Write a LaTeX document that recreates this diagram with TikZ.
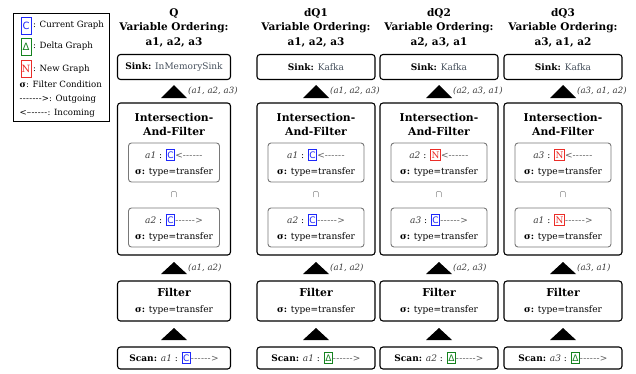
\documentclass[tikz,border=0pt]{standalone}
\usepackage{fontspec}
\setmainfont{DejaVu Serif}
\newfontfamily\sansf{DejaVu Sans}
\definecolor{cblue}{RGB}{30,40,250}
\definecolor{dgreen}{RGB}{20,130,30}
\definecolor{nred}{RGB}{235,45,40}
\definecolor{valc}{RGB}{70,80,92}
\definecolor{labc}{RGB}{60,60,60}
\definecolor{ibord}{RGB}{120,120,120}
\definecolor{dashc}{RGB}{90,90,90}
\newcommand\dsh{-\kern0.3pt-\kern0.3pt-\kern0.3pt-\kern0.3pt-\kern0.3pt-\kern0.3pt}
\newcommand\gbox[2]{{\setlength\fboxsep{0.6pt}\setlength\fboxrule{0.9pt}\fcolorbox{#1}{white}{\rule[-1.5pt]{0pt}{9.5pt}\textcolor{#1}{#2}}}}
\newcommand\Cb{\gbox{cblue}{\sansf C}}
\newcommand\Db{\gbox{dgreen}{\sansf Δ}}
\newcommand\Nb{\gbox{nred}{N}}
\newcommand\vv[1]{\textcolor{labc}{\textit{#1}}}
\newcommand\outg{\textcolor{dashc}{\dsh>}}
\newcommand\inc{\textcolor{dashc}{<\dsh}}
\newcommand\bodyfont{\fontsize{9}{16}\selectfont}
\tikzset{
  obox/.style={draw, line width=1.1pt, rounded corners=3pt, inner sep=0pt},
  ibox/.style={draw=ibord, line width=0.9pt, rounded corners=3pt, inner sep=0pt, align=center, font=\bodyfont},
  ttl/.style={align=center, inner sep=0pt, font=\bfseries\fontsize{10.5}{14.5}\selectfont},
  hd/.style={align=center, inner sep=0pt, font=\bfseries\fontsize{10.8}{14}\selectfont},
  lab/.style={anchor=west, inner sep=1pt, font=\itshape\fontsize{8.6}{9}\selectfont, text=labc},
  lt/.style={anchor=west, inner sep=1.5pt, font=\fontsize{8.6}{9}\selectfont},
  lgbox/.style={line width=0.9pt, minimum width=10, minimum height=17, inner sep=0pt, font=\fontsize{10}{10}\selectfont}
}
\newcommand\qcol[9]{%
\node[ttl] (t#1) at (#2,27.5) {#4\\Variable Ordering:\\#5};
\node[obox, minimum width=#3, minimum height=25, font=\bodyfont] (s#1) at (#2,67) {\textbf{Sink:} \textcolor{valc}{#6}};
\fill (#2-13,98) -- (#2,85) -- (#2+13,98) -- cycle;
\node[lab] (l#1) at (#2+13,91) {#7};
\node[obox, minimum width=#3, minimum height=152] (i#1) at (#2,179) {};
\node[hd] (h#1) at (#2,124) {Intersection-\\And-Filter};
\node[ibox, minimum width=#3-22, minimum height=39] (ia#1) at (#2,162.5) {#8\\\textbf{σ:} type=transfer};
\node[inner sep=0pt, font=\normalsize, text=labc] (cap#1) at (#2,195) {$\cap$};
\node[ibox, minimum width=#3-22, minimum height=39] (ib#1) at (#2,227.5) {#9\\\textbf{σ:} type=transfer};
\fill (#2-13,274) -- (#2,262) -- (#2+13,274) -- cycle;
\node[lab] (m#1) at (#2+13,268) {\midlab};
\node[obox, minimum width=#3, minimum height=40, align=center, font=\bodyfont] (f#1) at (#2,301) {{\bfseries\fontsize{10.8}{10}\selectfont Filter}\\\textbf{σ:} type=transfer};
\fill (#2-13,340) -- (#2,328) -- (#2+13,340) -- cycle;
\node[obox, minimum width=#3, minimum height=22, font=\bodyfont] (sc#1) at (#2,358) {\textbf{Scan:} \scanc};
}
\begin{document}
\begin{tikzpicture}[x=1pt, y=-1pt]
\useasboundingbox (0,0) rectangle (636,373);
% legend
\node[draw, line width=0.8pt, minimum width=96, minimum height=108, inner sep=0pt] (leg) at (61,67) {};
\node[lgbox, draw=cblue, text=cblue, font=\sansf\fontsize{10}{10}\selectfont] (lc) at (26,25.5) {C};
\node[lt] (lct) at (lc.east) {: Current Graph};
\node[lgbox, draw=dgreen, text=dgreen, font=\sansf\fontsize{10}{10}\selectfont] (ld) at (26,46.5) {Δ};
\node[lt] (ldt) at (ld.east) {: Delta Graph};
\node[lgbox, draw=nred, text=nred] (ln) at (26,69) {N};
\node[lt] (lnt) at (ln.east) {: New Graph};
\node[lt] (ls) at (18,84) {\textbf{σ}: Filter Condition};
\node[lt] (lo) at (18,99) {\dsh->: Outgoing};
\node[lt] (li) at (18,113) {<-\dsh: Incoming};
% columns
\def\midlab{(a1, a2)}\def\scanc{\vv{a1} : \Cb\outg}
\qcol{q}{174}{113}{Q}{a1, a2, a3}{InMemorySink}{(a1, a2, a3)}{\vv{a1} : \Cb\inc}{\vv{a2} : \Cb\outg}
\def\midlab{(a1, a2)}\def\scanc{\vv{a1} : \Db\outg}
\qcol{d1}{316}{118}{dQ1}{a1, a2, a3}{Kafka}{(a1, a2, a3)}{\vv{a1} : \Cb\inc}{\vv{a2} : \Cb\outg}
\def\midlab{(a2, a3)}\def\scanc{\vv{a2} : \Db\outg}
\qcol{d2}{439}{118}{dQ2}{a2, a3, a1}{Kafka}{(a2, a3, a1)}{\vv{a2} : \Nb\inc}{\vv{a3} : \Cb\outg}
\def\midlab{(a3, a1)}\def\scanc{\vv{a3} : \Db\outg}
\qcol{d3}{563}{118}{dQ3}{a3, a1, a2}{Kafka}{(a3, a1, a2)}{\vv{a3} : \Nb\inc}{\vv{a1} : \Nb\outg}
\end{tikzpicture}
\end{document}
